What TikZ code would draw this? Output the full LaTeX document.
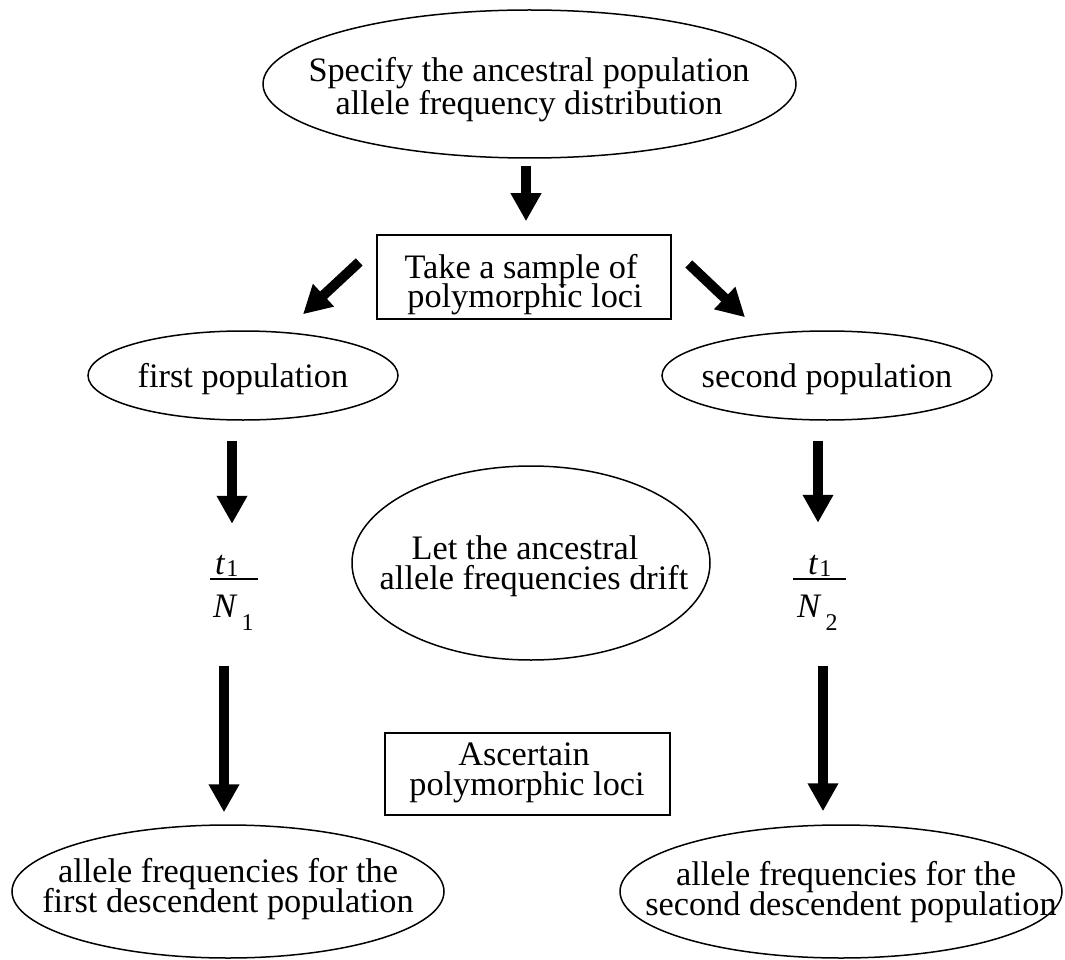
\documentclass[tikz,border=0pt]{standalone}
\usepackage{fontspec}
\setmainfont{Liberation Serif}
\usetikzlibrary{shapes.geometric,arrows.meta}
\newcommand\subx[2]{\raisebox{#1}{\fontsize{24}{24}\selectfont #2}}
\begin{document}
\begin{tikzpicture}[x=1pt,y=-1pt,
  ell/.style={draw,ellipse,line width=1.5pt,inner sep=0pt},
  boxed/.style={draw,rectangle,line width=1.6pt,inner sep=0pt},
  txt/.style={inner sep=0pt,anchor=base,font=\fontsize{34.3}{40}\selectfont},
  fat/.style={line width=10pt,-{Triangle[width=29pt,length=28pt]}},
  barline/.style={line width=1.5pt}
]
\fill[white] (0,0) rectangle (1065,960);
\useasboundingbox (0,0) rectangle (1065,960);

% shapes
\node[ell,minimum width=533pt,minimum height=148pt] (top) at (529.5,84) {};
\node[boxed,minimum width=294pt,minimum height=84pt] (box1) at (524,277) {};
\node[ell,minimum width=310pt,minimum height=89pt] (pop1) at (243,375.5) {};
\node[ell,minimum width=330pt,minimum height=89pt] (pop2) at (827,375.5) {};
\node[ell,minimum width=358pt,minimum height=194pt] (mid) at (531,563) {};
\node[boxed,minimum width=285pt,minimum height=82pt] (box2) at (527.5,774) {};
\node[ell,minimum width=432pt,minimum height=133pt] (bl) at (228,891.5) {};
\node[ell,minimum width=442pt,minimum height=133pt] (br) at (841,891.5) {};

% texts
\node[txt] (top1) at (529,82) {Specify the ancestral population};
\node[txt] (top2) at (529,115) {allele frequency distribution};
\node[txt] (b1a) at (521,278) {Take a sample of};
\node[txt] (b1b) at (525,307) {polymorphic loci};
\node[txt] (p1t) at (243,387) {first population};
\node[txt] (p2t) at (827,387) {second population};
\node[txt] (m1) at (525,559) {Let the ancestral};
\node[txt] (m2) at (534,589) {allele frequencies drift};
\node[txt] (b2a) at (524,765) {Ascertain};
\node[txt] (b2b) at (527,795) {polymorphic loci};
\node[txt] (bl1) at (228,882) {allele frequencies for the};
\node[txt] (bl2) at (228,912) {first descendent population};
\node[txt] (br1) at (846,885) {allele frequencies for the};
\node[txt] (br2) at (851,915) {second descendent population};

% fractions
\node[txt,anchor=base west] (t1L) at (215,574) {\textit{t}\kern1pt\subx{-2pt}{1}};
\node[txt,anchor=base west] (N1L) at (213,617) {\textit{N}\kern4pt\subx{-13pt}{1}};
\draw[barline] (210,579) -- (258,579);
\node[txt,anchor=base west] (t1R) at (808,574) {\textit{t}\kern1pt\subx{-2pt}{1}};
\node[txt,anchor=base west] (N2R) at (797,617) {\textit{N}\kern4pt\subx{-13pt}{2}};
\draw[barline] (793,579) -- (846,579);

% connectors
\draw[fat] ([shift={(-3.5,7)}]top.south) -- ([shift={(2,-13)}]box1.north);
\draw[fat] ([shift={(-17,-15)}]box1.west) -- ([shift={(60,-16)}]pop1.north);
\draw[fat] ([shift={(17,-13)}]box1.east) -- ([shift={(-82,-13)}]pop2.north);
\draw[fat] ([shift={(-11,20)}]pop1.south) -- ([shift={(-11,103)}]pop1.south);
\draw[fat] ([shift={(-9,20)}]pop2.south) -- ([shift={(-9,102)}]pop2.south);
\draw[fat] ([shift={(-4,-158)}]bl.north) -- ([shift={(-4,-12)}]bl.north);
\draw[fat] ([shift={(-18,-158)}]br.north) -- ([shift={(-18,-13)}]br.north);
\end{tikzpicture}
\end{document}
